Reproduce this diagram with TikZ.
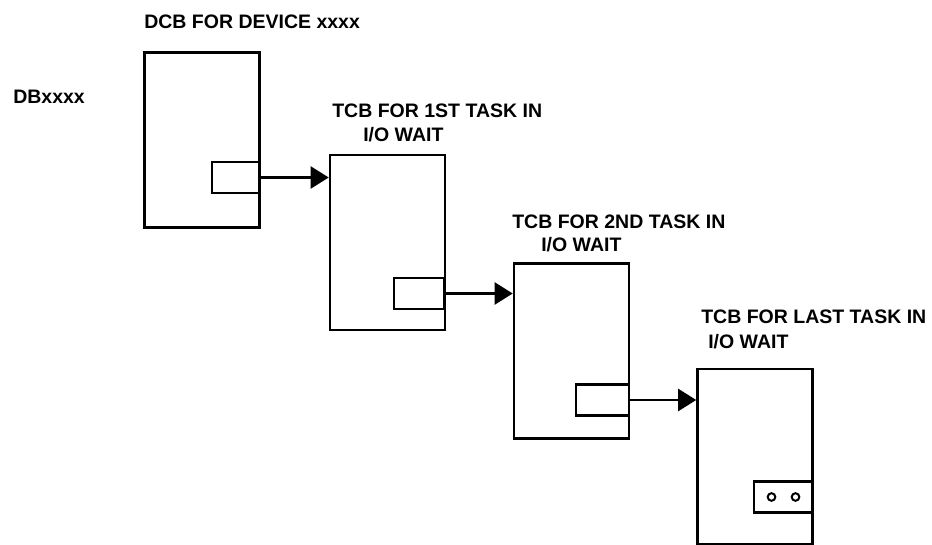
\documentclass[tikz,border=0pt]{standalone}
\usepackage{fontspec}
\setmainfont{Liberation Sans}
\usetikzlibrary{arrows.meta}
\begin{document}
\begin{tikzpicture}[x=1pt,y=-1pt,>={Triangle[length=18pt,width=22pt]},line width=2.6pt,
  blk/.style={draw,minimum width=115pt,minimum height=175pt,inner sep=0pt},
  ptr/.style={draw,minimum height=31pt,inner sep=0pt},
  lbl/.style={anchor=west,inner sep=0pt,font=\fontsize{19.5}{22}\selectfont\bfseries}]
\useasboundingbox (0,0) rectangle (932,545);
\foreach \n/\x/\y in {dcb/202/140,t1/387.5/242.5,t2/571.5/351,t3/755/456.5} {
    \node[blk] (\n) at (\x,\y) {};
}
\foreach \n/\x/\y/\w in {p0/236/177.5/48,p1/419/293.5/50,p2/602.5/400/53,p3/783.5/497/59} {
    \node[ptr,minimum width=\w pt] (\n) at (\x,\y) {};
}
\draw[line width=2pt] ([xshift=-12pt]p3.center) circle (3.8pt);
\draw[line width=2pt] ([xshift=12pt]p3.center) circle (3.8pt);
\foreach \a/\b in {p0/t1,p1/t2,p2/t3} {
    \draw[->,line width=2.2pt] (\a.east) -- (\a.east -| \b.west);
}
\node[lbl] (dcbname) at (143,22) {DCB FOR DEVICE xxxx};
\node[lbl] (dbname) at (12,97) {DBxxxx};
\node[lbl] (t1a) at (331,111) {TCB FOR 1ST TASK IN};
\node[lbl] (t1b) at (362,135) {I/O WAIT};
\node[lbl] (t2a) at (511,222) {TCB FOR 2ND TASK IN};
\node[lbl] (t2b) at (540,245) {I/O WAIT};
\node[lbl] (t3a) at (700,317) {TCB FOR LAST TASK IN};
\node[lbl] (t3b) at (707,342) {I/O WAIT};
\end{tikzpicture}
\end{document}
